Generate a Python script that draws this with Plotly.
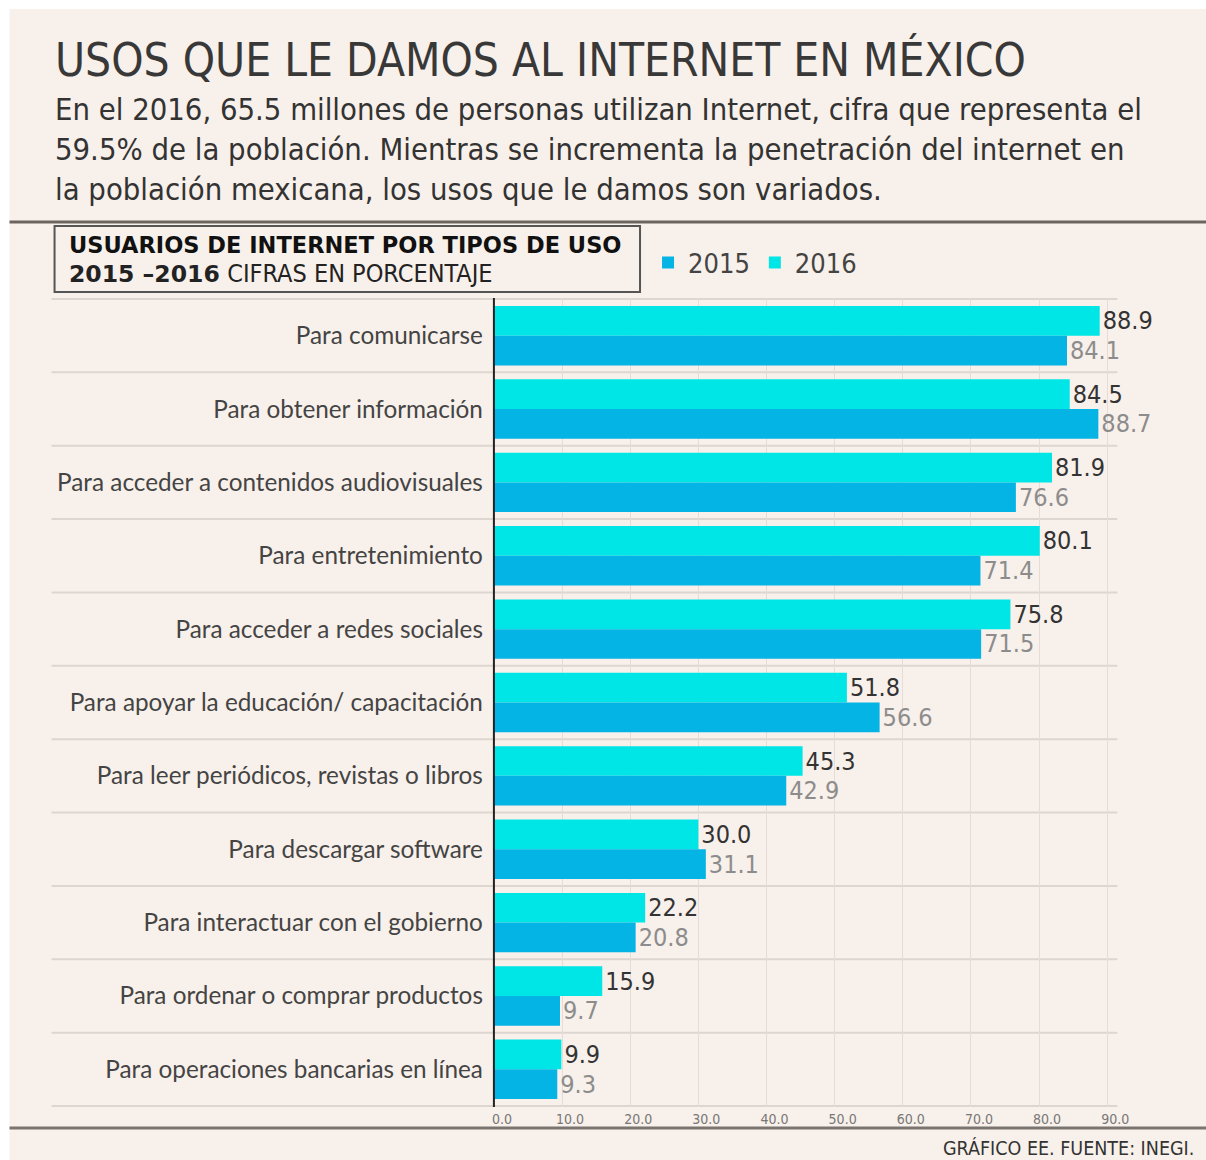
import plotly.graph_objects as go

categories = [
    "Para comunicarse",
    "Para obtener información",
    "Para acceder a contenidos audiovisuales",
    "Para entretenimiento",
    "Para acceder a redes sociales",
    "Para apoyar la educación/ capacitación",
    "Para leer periódicos, revistas o libros",
    "Para descargar software",
    "Para interactuar con el gobierno",
    "Para ordenar o comprar productos",
    "Para operaciones bancarias en línea",
]
values_2015 = [84.1, 88.7, 76.6, 71.4, 71.5, 56.6, 42.9, 31.1, 20.8, 9.7, 9.3]
values_2016 = [88.9, 84.5, 81.9, 80.1, 75.8, 51.8, 45.3, 30.0, 22.2, 15.9, 9.9]
tick_vals = [0, 10, 20, 30, 40, 50, 60, 70, 80, 90]
tick_text = ["0.0", "10.0", "20.0", "30.0", "40.0", "50.0", "60.0", "70.0", "80.0", "90.0"]

W, H = 1206, 1160
CREAM = "#f8f0ea"
C2015 = "#03b4e4"
C2016 = "#00e6e6"
NARROW = "DejaVu Sans Condensed, Liberation Sans Narrow, sans-serif"

def px_x(p):
    return max(p - 2.5, 0) / W

def px_y(p):
    return 1 - p / H

fig = go.Figure()
# 2016 first so it sits on top with the reversed category axis
fig.add_trace(go.Bar(
    y=categories, x=values_2016, orientation="h", name="2016", legendrank=2,
    marker=dict(color=C2016, line=dict(width=0)),
    text=[f"{v:.1f}" for v in values_2016], textposition="outside",
    textfont=dict(family=NARROW, size=25, color="#333333"),
    cliponaxis=False,
))
fig.add_trace(go.Bar(
    y=categories, x=values_2015, orientation="h", name="2015", legendrank=1,
    marker=dict(color=C2015, line=dict(width=0)),
    text=[f"{v:.1f}" for v in values_2015], textposition="outside",
    textfont=dict(family=NARROW, size=25, color="#8c8c8c"),
    cliponaxis=False,
))

x0p, x1p = px_x(494), px_x(1117)
y_top, y_bot = px_y(298), px_y(1107)

shapes = []
shapes.append(dict(type="rect", xref="paper", yref="paper", x0=px_x(10), x1=1, y0=0, y1=px_y(9),
                   fillcolor=CREAM, line=dict(width=0), layer="below"))
shapes.append(dict(type="line", xref="paper", yref="paper", x0=px_x(10), x1=1, y0=px_y(222), y1=px_y(222),
                   line=dict(color="#6b6460", width=3)))
shapes.append(dict(type="line", xref="paper", yref="paper", x0=px_x(10), x1=1, y0=px_y(1128), y1=px_y(1128),
                   line=dict(color="#7a7470", width=3)))
shapes.append(dict(type="rect", xref="paper", yref="paper", x0=px_x(55), x1=px_x(640), y0=px_y(292), y1=px_y(226),
                   line=dict(color="#555555", width=2), fillcolor="rgba(0,0,0,0)"))
n = len(categories)
for k in range(n + 1):
    shapes.append(dict(type="line", xref="paper", yref="y", x0=px_x(52), x1=x1p,
                       y0=k - 0.5, y1=k - 0.5, line=dict(color="#ddd6d0", width=2), layer="below"))
shapes.append(dict(type="line", xref="paper", yref="paper", x0=x0p, x1=x0p, y0=y_bot, y1=y_top,
                   line=dict(color="#222222", width=2)))

annotations = [
    dict(text="USOS QUE LE DAMOS AL INTERNET EN MÉXICO", x=px_x(53), y=px_y(60), xref="paper", yref="paper",
         xanchor="left", yanchor="middle", showarrow=False,
         font=dict(family=NARROW, size=45.7, color="#383838")),
    dict(text="En el 2016, 65.5 millones de personas utilizan Internet, cifra que representa el<br>"
              "59.5% de la población. Mientras se incrementa la penetración del internet en<br>"
              "la población mexicana, los usos que le damos son variados.",
         x=px_x(53), y=px_y(150), xref="paper", yref="paper", xanchor="left", yanchor="middle",
         align="left", showarrow=False,
         font=dict(family=NARROW, size=30.7, color="#333333")),
    dict(text="<b>USUARIOS DE INTERNET POR TIPOS DE USO</b>", x=px_x(67), y=px_y(245), xref="paper", yref="paper",
         xanchor="left", yanchor="middle", showarrow=False,
         font=dict(family="DejaVu Sans, sans-serif", size=22.5, color="#111111")),
    dict(text="<b>2015 –2016</b> <span style=\"font-family:'DejaVu Sans Condensed';font-size:25px\">CIFRAS EN PORCENTAJE</span>",
         x=px_x(67), y=px_y(274), xref="paper", yref="paper",
         xanchor="left", yanchor="middle", showarrow=False,
         font=dict(family="DejaVu Sans, sans-serif", size=23.5, color="#222222")),
    dict(text="GRÁFICO EE. FUENTE: INEGI.", x=px_x(1196), y=px_y(1148), xref="paper", yref="paper",
         xanchor="right", yanchor="middle", showarrow=False,
         font=dict(family=NARROW, size=19.5, color="#333333")),
]

fig.update_layout(
    width=1221, height=H,
    margin=dict(l=0, r=0, t=0, b=0),
    paper_bgcolor="white",
    plot_bgcolor="rgba(0,0,0,0)",
    barmode="group",
    bargap=0.19,
    bargroupgap=0,
    showlegend=True,
    legend=dict(orientation="h", x=px_x(648), y=px_y(263), xanchor="left", yanchor="middle",
                font=dict(family=NARROW, size=27, color="#444444"), bgcolor="rgba(0,0,0,0)",
                itemwidth=30),
    shapes=shapes,
    annotations=annotations,
    font=dict(family="Lato, sans-serif"),
)
fig.update_xaxes(
    domain=[x0p, x1p], range=[0, 91.5],
    tickvals=tick_vals, ticktext=tick_text,
    tickfont=dict(family=NARROW, size=14, color="#777777"),
    showgrid=True, gridcolor="#e4dcd5", gridwidth=1,
    zeroline=False, showline=False, ticks="", ticklabelshift=8, ticklabelstandoff=2,
)
fig.update_yaxes(
    domain=[y_bot, y_top], autorange="reversed",
    tickfont=dict(family="Lato, sans-serif", size=24.3, color="#444444"),
    showgrid=False, zeroline=False, showline=False, ticks="", ticklabelstandoff=10,
)

fig.write_html(
    "out.html",
    config={"displayModeBar": False},
    post_script=(
        "document.documentElement.style.margin='0';"
        "document.documentElement.style.overflow='hidden';"
        "document.body.style.margin='0';"
        "document.body.style.overflow='hidden';"
    ),
)
